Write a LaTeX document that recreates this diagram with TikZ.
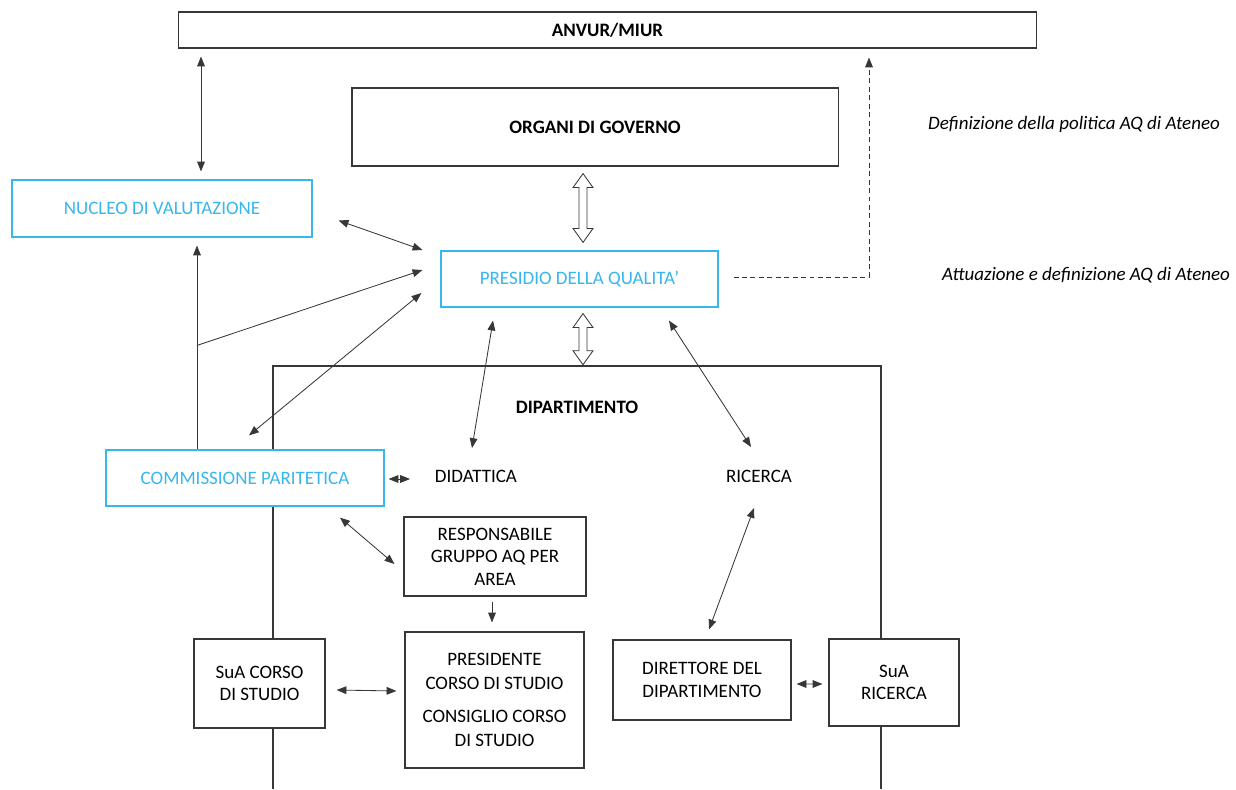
\documentclass[tikz,border=0pt]{standalone}
\usepackage{fontspec}
\setmainfont{Carlito}
\usetikzlibrary{arrows.meta,positioning,calc}
\definecolor{aqcyan}{RGB}{56,182,238}
\definecolor{aqline}{RGB}{55,55,55}
\tikzset{x=0.025cm, y=-0.025cm, % one unit is one pixel of the drawing, y grows downwards
        every node/.style={font=\fontsize{13.5}{16}\selectfont, align=center},
        box/.style={ % Sets the properties for each black box
            draw=aqline, thick, fill=white, inner sep=2pt},
        cbox/.style={ % Boxes of the quality bodies
            draw=aqcyan, thick, fill=white, text=aqcyan, inner sep=2pt},
        hollowarr/.style={ % Big hollow two-way arrows
            draw=aqline, fill=white, semithick, line join=miter},
        link/.style={ % Sets the properties for each connector
            draw=aqline, semithick,
            {Triangle[length=7pt,width=5.5pt]}-{Triangle[length=7pt,width=5.5pt]}},
        onelink/.style={draw=aqline, semithick, -{Triangle[length=7pt,width=5.5pt]}},
        dashlink/.style={draw=aqline, semithick, dash pattern=on 3.5pt off 2.5pt,
            -{Triangle[length=7pt,width=5.5pt]}}
        }
% hollow two-way arrow from coordinate #1 (top tip) to #2 (bottom tip)
\newcommand{\twowayarrow}[2]{%
    \draw[hollowarr] (#1) -- ($(#1)+(10,14)$) -- ($(#1)+(4,14)$) -- ($(#2)+(4,-14)$)
        -- ($(#2)+(10,-14)$) -- (#2) -- ($(#2)+(-10,-14)$) -- ($(#2)+(-4,-14)$)
        -- ($(#1)+(-4,14)$) -- ($(#1)+(-10,14)$) -- cycle;}

\begin{document}
\begin{tikzpicture}
    \useasboundingbox (0,0) rectangle (1236,789);

    % department frame, open at the bottom
    \draw[aqline, thick] (273,789) |- (881,366) -- (881,789);

    \node[box, minimum width=21.425cm, minimum height=0.9cm, font=\fontsize{13.5}{16}\selectfont\bfseries]
        (anvur) at (607.5,30) {ANVUR/MIUR};
    \node[box, minimum width=12.15cm, minimum height=1.95cm, font=\fontsize{13.5}{16}\selectfont\bfseries]
        (organi) at (595,127) {ORGANI DI GOVERNO};
    \node[cbox, minimum width=7.5cm, minimum height=1.425cm]   (nucleo)   at (162,208.5) {NUCLEO DI VALUTAZIONE};
    \node[cbox, minimum width=6.925cm, minimum height=1.4cm]   (presidio) at (579.5,279) {PRESIDIO DELLA QUALITA’};
    \node[cbox, minimum width=6.95cm, minimum height=1.4cm]    (commiss)  at (245,478)   {COMMISSIONE PARITETICA};

    \node[font=\fontsize{13.5}{16}\selectfont\itshape] (defpol) at (1074,124) {Definizione della politica AQ di Ateneo};
    \node[font=\fontsize{13.5}{16}\selectfont\itshape] (attpol) at (1086,275) {Attuazione e definizione AQ di Ateneo};

    \node[font=\fontsize{13.5}{16}\selectfont\bfseries] (diptitle) at (577,407) {DIPARTIMENTO};
    \node (didattica) at (476,476) {DIDATTICA};
    \node (ricerca)   at (759,476) {RICERCA};

    \node[box, minimum width=4.55cm, minimum height=1.975cm]  (resp)     at (495,556.5) {RESPONSABILE\\GRUPPO AQ PER\\AREA};
    \node[box, minimum width=3.275cm, minimum height=2.225cm] (suacorso) at (259.5,683.5) {SuA CORSO\\DI STUDIO};
    \node[box, minimum width=4.475cm, minimum height=3.4cm, font=\fontsize{13.5}{17}\selectfont]
        (presid) at (494.5,700) {PRESIDENTE\\CORSO DI STUDIO\\[7pt]CONSIGLIO CORSO\\DI STUDIO};
    \node[box, minimum width=4.45cm, minimum height=2cm]      (direttore) at (702,680) {DIRETTORE DEL\\DIPARTIMENTO};
    \node[box, minimum width=3.25cm, minimum height=2.175cm]  (suaric)   at (894,682.5) {SuA\\RICERCA};

    % hollow two-way arrows
    \coordinate (govtop) at ($(organi.south)+(-12,7)$);
    \coordinate (govbot) at ($(presidio.north)+(3.5,-8)$);
    \coordinate (diptop) at ($(presidio.south)+(3.5,6)$);
    \coordinate (dipbot) at ($(diptitle.north)+(6,-31)$);
    \twowayarrow{govtop}{govbot}
    \twowayarrow{diptop}{diptop |- dipbot}

    \coordinate (junc) at ($(commiss.north)+(-48,-104)$);

    \draw[link] ($(nucleo.north)+(39,-8)$) -- ($(anvur.south -| nucleo.north)+(39,8)$);
    \draw[link] ($(nucleo.east)+(26,12)$) -- ($(presidio.west)+(-18,-29)$);
    \draw[onelink] ($(commiss.north)+(-48,0)$) -- ($(nucleo.south)+(35,8)$);
    \draw[onelink] (junc) -- ($(presidio.west)+(-18,-9)$);
    \draw[link] ($(commiss.north)+(4,-14)$) -- ($(presidio.west)+(-19,14)$);
    \draw[link] ($(presidio.south)+(-86.5,13)$) -- ($(didattica.center)+(-4,-28)$);
    \draw[link] ($(presidio.south)+(89.5,13)$) -- ($(ricerca.center)+(-8,-29)$);
    \draw[link] ($(commiss.east)+(4,1)$) -- ($(didattica.center)+(-66,3)$);
    \draw[link] ($(commiss.south)+(95,11)$) -- ($(resp.west)+(-9,7.5)$);
    \draw[onelink] ($(resp.south)+(-3,5)$) -- ($(presid.north)+(-2.5,-9)$);
    \draw[link] ($(suacorso.east)+(11,6.5)$) -- ($(presid.west)+(-8,-9)$);
    \draw[link] ($(ricerca.center)+(-5,32)$) -- ($(direttore.north)+(7,-10)$);
    \draw[link] ($(direttore.east)+(5,4)$) -- ($(suaric.west)+(-6,1.5)$);
    \draw[dashlink] ($(presidio.east)+(15,-2)$) -| ($(anvur.south)+(261.5,9)$);
\end{tikzpicture}
\end{document}
